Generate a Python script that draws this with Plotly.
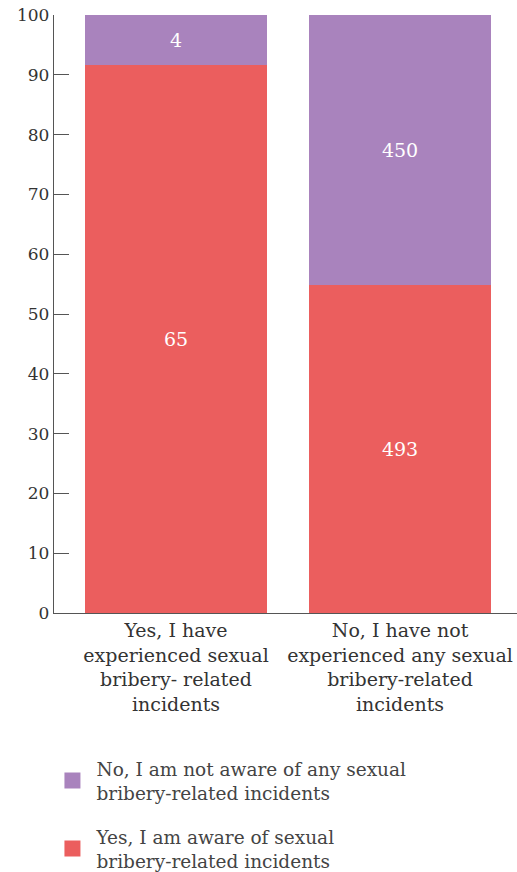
import plotly.graph_objects as go

categories = [
    "Yes, I have<br>experienced sexual<br>bribery- related<br>incidents",
    "No, I have not<br>experienced any sexual<br>bribery-related<br>incidents",
]
series_names = [
    "Yes, I am aware of sexual<br>bribery-related incidents",
    "No, I am not aware of any sexual<br>bribery-related incidents",
]
aware_pct = [91.7, 54.9]
not_aware_pct = [8.3, 45.1]
aware_counts = [65, 493]
not_aware_counts = [4, 450]
y_ticks = [0, 10, 20, 30, 40, 50, 60, 70, 80, 90, 100]

RED = "#EB5E5E"
PURPLE = "#A983BD"
FONT = "DejaVu Serif"
TXT = "#333333"

fig = go.Figure()
fig.add_trace(go.Bar(
    x=categories, y=aware_pct, text=[str(v) for v in aware_counts],
    marker=dict(color=RED, line=dict(width=0)), width=0.8125,
    textposition="inside", insidetextanchor="middle", textangle=0,
    textfont=dict(color="white", size=19, family=FONT),
    showlegend=False, hoverinfo="skip",
))
fig.add_trace(go.Bar(
    x=categories, y=not_aware_pct, text=[str(v) for v in not_aware_counts],
    marker=dict(color=PURPLE, line=dict(width=0)), width=0.8125,
    textposition="inside", insidetextanchor="middle", textangle=0,
    textfont=dict(color="white", size=19, family=FONT),
    showlegend=False, hoverinfo="skip",
))
# legend entries (purple listed first, as in the reference)
for i, (name, col) in enumerate([(series_names[1], PURPLE), (series_names[0], RED)]):
    fig.add_trace(go.Scatter(
        x=[None], y=[None], mode="markers", name=name, legendgroup=f"g{i}",
        marker=dict(symbol="square", size=19, color=col),
    ))

fig.update_layout(
    width=517, height=872,
    margin=dict(l=54, r=0, t=15, b=259, autoexpand=False),
    barmode="stack",
    plot_bgcolor="white", paper_bgcolor="white",
    font=dict(family=FONT, color=TXT),
    legend=dict(
        x=-0.012, xanchor="left", y=-0.229, yanchor="top",
        traceorder="grouped", font=dict(size=18.5, color="#444444", family=FONT),
        tracegroupgap=17, itemwidth=38,
    ),
    showlegend=True,
)
fig.update_xaxes(
    range=[-0.5446, 1.522], showline=True, linecolor="#555555", linewidth=1.3,
    ticks="", tickfont=dict(size=19, color=TXT, family=FONT), showgrid=False,
    fixedrange=True, automargin=False,
)
fig.update_yaxes(
    range=[0, 100], tickvals=y_ticks, showline=True, linecolor="#555555",
    linewidth=1.3, ticks="inside", ticklen=15, tickcolor="#555555", tickwidth=1.3,
    tickfont=dict(size=17, color=TXT, family=FONT), showgrid=False, zeroline=False,
    fixedrange=True, automargin=False,
)

fig.write_html("out.html", config={"displayModeBar": False},
               post_script="document.body.style.margin='0';")
